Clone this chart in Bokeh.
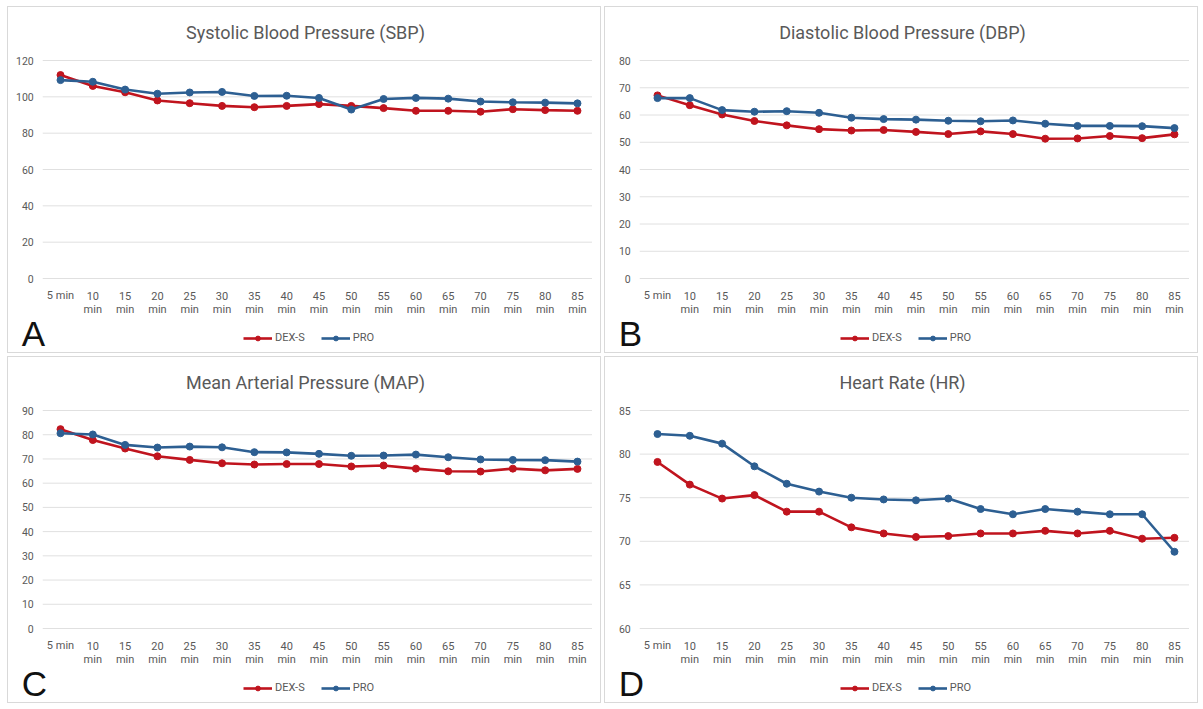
from bokeh.plotting import figure
from bokeh.models import Legend, LegendItem, Range1d, Spacer
from bokeh.layouts import column, row
from bokeh.core.properties import value
from bokeh.embed import file_html
from bokeh.resources import INLINE

times = ["5 min", "10\nmin", "15\nmin", "20\nmin", "25\nmin", "30\nmin", "35\nmin",
         "40\nmin", "45\nmin", "50\nmin", "55\nmin", "60\nmin", "65\nmin", "70\nmin",
         "75\nmin", "80\nmin", "85\nmin"]

sbp_dex = [112.0, 106.0, 102.5, 98.0, 96.5, 95.0, 94.3, 95.0, 96.0, 95.0, 93.8, 92.3, 92.3, 91.8, 93.2, 92.7, 92.3]
sbp_pro = [109.2, 108.3, 104.0, 101.7, 102.4, 102.7, 100.5, 100.6, 99.4, 93.0, 98.8, 99.4, 99.0, 97.4, 97.0, 96.8, 96.4]

dbp_dex = [67.2, 63.6, 60.2, 57.8, 56.2, 54.8, 54.3, 54.5, 53.8, 53.0, 54.0, 53.0, 51.3, 51.4, 52.3, 51.5, 52.9]
dbp_pro = [66.2, 66.2, 61.8, 61.2, 61.4, 60.8, 59.0, 58.5, 58.3, 57.9, 57.7, 58.0, 56.8, 56.0, 56.0, 55.9, 55.2]

map_dex = [82.3, 77.8, 74.3, 71.1, 69.6, 68.2, 67.7, 67.9, 67.9, 66.9, 67.3, 66.0, 64.9, 64.8, 66.0, 65.3, 65.9]
map_pro = [80.6, 80.1, 75.8, 74.7, 75.1, 74.8, 72.8, 72.7, 72.1, 71.3, 71.4, 71.8, 70.7, 69.8, 69.6, 69.5, 68.9]

hr_dex = [79.1, 76.5, 74.9, 75.3, 73.4, 73.4, 71.6, 70.9, 70.5, 70.6, 70.9, 70.9, 71.2, 70.9, 71.2, 70.3, 70.4]
hr_pro = [82.3, 82.1, 81.2, 78.6, 76.6, 75.7, 75.0, 74.8, 74.7, 74.9, 73.7, 73.1, 73.7, 73.4, 73.1, 73.1, 68.8]

series_names = ["DEX-S", "PRO"]

RED = "#C0141E"
BLUE = "#2D5F92"
GREY = "#595959"
GRID = "#E0E0E0"
FONT = "Roboto"

W, H = 594, 347
TOP = 48          # canvas space above the frame (title)
Y_TOP = 53        # canvas y of the top tick
Y_BOT = 271       # canvas y of the bottom tick
X0 = 52           # canvas x of first category
DX = 32.31        # px per category


def panel(title, letter, dex, pro, ymin, ymax, ystep):
    n = len(times)
    ppu = (Y_BOT - Y_TOP) / (ymax - ymin)
    y_end = ymax + (Y_TOP - TOP) / ppu
    y_start = ymin - (H - Y_BOT) / ppu
    x_start = -X0 / DX
    x_end = (W - X0) / DX

    p = figure(width=W, height=H, output_backend="svg", toolbar_location=None,
               x_range=Range1d(x_start, x_end), y_range=Range1d(y_start, y_end),
               x_axis_location=None, y_axis_location=None,
               min_border_left=0, min_border_right=0, min_border_top=TOP,
               min_border_bottom=0)
    p.styles = {"border": "1px solid #D9D9D9"}
    p.outline_line_color = None
    p.xgrid.grid_line_color = None
    p.ygrid.grid_line_color = None
    p.title.text = title
    p.title.align = "center"
    p.title.text_font = FONT
    p.title.text_font_size = "18px"
    p.title.text_font_style = "normal"
    p.title.text_color = GREY
    p.title.standoff = 25

    yt = list(range(ymin, ymax + 1, ystep))
    gx0, gx1 = -0.55, n - 0.55
    p.segment(x0=[gx0] * len(yt), x1=[gx1] * len(yt), y0=yt, y1=yt,
              line_color=GRID, line_width=1)
    p.text(x=[gx0] * len(yt), y=yt, text=[str(v) for v in yt], x_offset=-9,
           text_align="right", text_baseline="middle", text_font_size="10.5px",
           text_color=GREY, text_font=value(FONT))

    xs = list(range(n))
    first = [t.split("\n")[0] for t in times]
    second = [t.split("\n")[1] if "\n" in t else "" for t in times]
    p.text(x=xs, y=[ymin] * n, text=first, y_offset=17, text_align="center",
           text_baseline="middle", text_font_size="11px", text_color=GREY,
           text_font=value(FONT))
    p.text(x=xs, y=[ymin] * n, text=second, y_offset=31, text_align="center",
           text_baseline="middle", text_font_size="11px", text_color=GREY,
           text_font=value(FONT))

    r1 = p.line(xs, dex, line_color=RED, line_width=2.6)
    c1 = p.scatter(xs, dex, marker="circle", size=7, fill_color=RED, line_color=RED)
    r2 = p.line(xs, pro, line_color=BLUE, line_width=2.6)
    c2 = p.scatter(xs, pro, marker="circle", size=7, fill_color=BLUE, line_color=BLUE)

    p.text(x=[gx0], y=[ymin], text=[letter], x_offset=-21, y_offset=55,
           text_align="left", text_baseline="middle", text_font_size="35px",
           text_color="#111111", text_font=value("Liberation Sans"))

    legend = Legend(items=[LegendItem(label=series_names[0], renderers=[r1, c1]),
                           LegendItem(label=series_names[1], renderers=[r2, c2])],
                    orientation="horizontal", location=(235, 10),
                    border_line_color=None, background_fill_alpha=0,
                    label_text_font=FONT, label_text_font_size="11px",
                    label_text_color=GREY, glyph_width=29, glyph_height=12,
                    spacing=16, label_standoff=3, padding=0, margin=0,
                    label_height=12)
    p.add_layout(legend, "center")
    return p


pa = panel("Systolic Blood Pressure (SBP)", "A", sbp_dex, sbp_pro, 0, 120, 20)
pb = panel("Diastolic Blood Pressure (DBP)", "B", dbp_dex, dbp_pro, 0, 80, 10)
pc = panel("Mean Arterial Pressure (MAP)", "C", map_dex, map_pro, 0, 90, 10)
pd = panel("Heart Rate (HR)", "D", hr_dex, hr_pro, 60, 85, 5)

layout = column(Spacer(height=3),
                row(Spacer(width=4), pa, pb, spacing=3),
                row(Spacer(width=4), pc, pd, spacing=3),
                spacing=3)

open("out.html", "w").write(file_html(layout, INLINE))
